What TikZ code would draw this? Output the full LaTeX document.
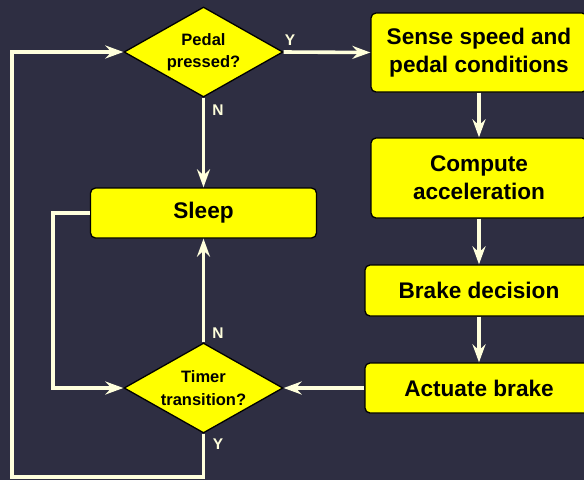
\documentclass[tikz,border=0pt]{standalone}
\usepackage{fontspec}
\setmainfont{Liberation Sans}
\usetikzlibrary{shapes.geometric,arrows.meta}
\definecolor{bg}{HTML}{2E2E42}
\definecolor{ln}{HTML}{FFFFDC}
\definecolor{fillY}{HTML}{FFFF00}
\begin{document}
\begin{tikzpicture}[x=1pt,y=-1pt,
  procbox/.style={draw=black, line width=1.3pt, fill=fillY, rounded corners=5pt, inner sep=0pt, align=center,
    font=\fontsize{22.6}{28}\selectfont\bfseries, text=black},
  decision/.style={diamond, draw=black, line width=1.3pt, fill=fillY, inner sep=0pt, aspect=1.77,
    minimum width=159pt, minimum height=90pt, align=center, font=\fontsize{16.5}{22.5}\selectfont\bfseries, text=black},
  conn/.style={draw=ln, line width=3.6pt, -{Stealth[length=18pt,width=13pt,inset=6pt]}},
  lbl/.style={text=ln, font=\fontsize{15.5}{18}\selectfont\bfseries, inner sep=0pt}]
\fill[bg] (0,0) rectangle (584,480);
\useasboundingbox (0,0) rectangle (584,480);

\node[decision] (pedal) at (203.5,52) {Pedal\\pressed?};
\node[decision] (timer) at (203.5,388) {Timer\\transition?};
\node[procbox, minimum width=216pt, minimum height=79pt] (sense) at (479,52.5) {Sense speed and\\pedal conditions};
\node[procbox, minimum width=216pt, minimum height=80pt] (comp) at (479,178) {Compute\\acceleration};
\node[procbox, minimum width=228pt, minimum height=51pt] (brake) at (479,290.5) {Brake decision};
\node[procbox, minimum width=228pt, minimum height=50pt] (act) at (479,388) {Actuate brake};
\node[procbox, minimum width=226pt, minimum height=50pt] (sleep) at (203.5,213) {Sleep};

\coordinate (bl) at (12,477);
\coordinate (br) at (203.5,477);
\coordinate (tl) at (12,52);
\coordinate (sl) at (53,213);
\coordinate (sb) at (53,388);

\draw[conn] (pedal.east) -- (sense.west);
\draw[conn] (pedal.south) -- (sleep.north);
\draw[conn] (sense.south) -- (comp.north);
\draw[conn] (comp.south) -- (brake.north);
\draw[conn] (brake.south) -- (act.north);
\draw[conn] (act.west) -- (timer.east);
\draw[conn] (timer.north) -- (sleep.south);
\draw[conn, line join=miter] (timer.south) -- (br) -- (bl) -- (tl) -- (pedal.west);
\draw[conn, line join=miter] (sleep.west) -- (sl) -- (sb) -- (timer.west);

\node[lbl] (ly1) at (290,40) {Y};
\node[lbl] (ln1) at (218,110) {N};
\node[lbl] (ln2) at (218,333) {N};
\node[lbl] (ly2) at (218,444) {Y};
\end{tikzpicture}
\end{document}
